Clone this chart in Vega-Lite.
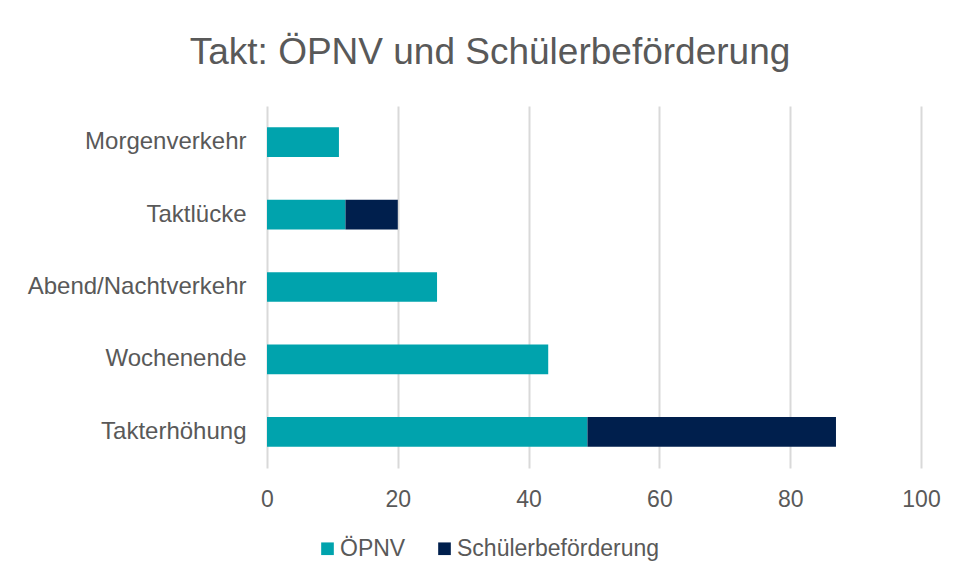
{
  "$schema": "https://vega.github.io/schema/vega-lite/v6.json",
  "autosize": "none",
  "width": 654,
  "height": 362,
  "padding": {"left": 267, "top": 106, "right": 39, "bottom": 113},
  "background": "white",
  "title": {
    "text": "Takt: ÖPNV und Schülerbeförderung",
    "anchor": "middle",
    "frame": "group",
    "dx": -104,
    "baseline": "alphabetic",
    "offset": 5,
    "font": "Liberation Sans",
    "fontSize": 37,
    "fontWeight": "normal",
    "color": "#595959"
  },
  "data": {
    "values": [
      {"kategorie": "Morgenverkehr", "serie": "ÖPNV", "wert": 11},
      {"kategorie": "Taktlücke", "serie": "ÖPNV", "wert": 12},
      {"kategorie": "Taktlücke", "serie": "Schülerbeförderung", "wert": 8},
      {"kategorie": "Abend/Nachtverkehr", "serie": "ÖPNV", "wert": 26},
      {"kategorie": "Wochenende", "serie": "ÖPNV", "wert": 43},
      {"kategorie": "Takterhöhung", "serie": "ÖPNV", "wert": 49},
      {"kategorie": "Takterhöhung", "serie": "Schülerbeförderung", "wert": 38}
    ]
  },
  "mark": {"type": "bar"},
  "encoding": {
    "y": {
      "field": "kategorie",
      "type": "nominal",
      "sort": ["Morgenverkehr", "Taktlücke", "Abend/Nachtverkehr", "Wochenende", "Takterhöhung"],
      "scale": {"paddingInner": 0.59, "paddingOuter": 0.295},
      "axis": {
        "title": null,
        "domain": false,
        "ticks": false,
        "grid": false,
        "labelPadding": 21,
        "labelLimit": 0,
        "labelFont": "Liberation Sans",
        "labelFontSize": 24,
        "labelColor": "#595959"
      }
    },
    "x": {
      "field": "wert",
      "type": "quantitative",
      "stack": "zero",
      "scale": {"domain": [0, 100]},
      "axis": {
        "title": null,
        "values": [0, 20, 40, 60, 80, 100],
        "domain": false,
        "ticks": false,
        "grid": true,
        "gridColor": "#d9d9d9",
        "gridWidth": 2,
        "labelFlush": false,
        "labelPadding": 20,
        "labelBaseline": "top",
        "labelFont": "Liberation Sans",
        "labelFontSize": 23,
        "labelColor": "#595959"
      }
    },
    "color": {
      "field": "serie",
      "type": "nominal",
      "scale": {"domain": ["ÖPNV", "Schülerbeförderung"], "range": ["#00A3AD", "#001F4D"]},
      "legend": {
        "title": null,
        "orient": "none",
        "direction": "horizontal",
        "legendX": 49,
        "legendY": 431,
        "padding": 0,
        "symbolType": "square",
        "symbolSize": 160,
        "symbolStrokeWidth": 0,
        "labelOffset": 1,
        "columnPadding": 27,
        "labelLimit": 0,
        "labelFont": "Liberation Sans",
        "labelFontSize": 23,
        "labelColor": "#595959"
      }
    },
    "order": {"field": "serie", "sort": "descending"}
  },
  "config": {
    "view": {"stroke": null}
  }
}
